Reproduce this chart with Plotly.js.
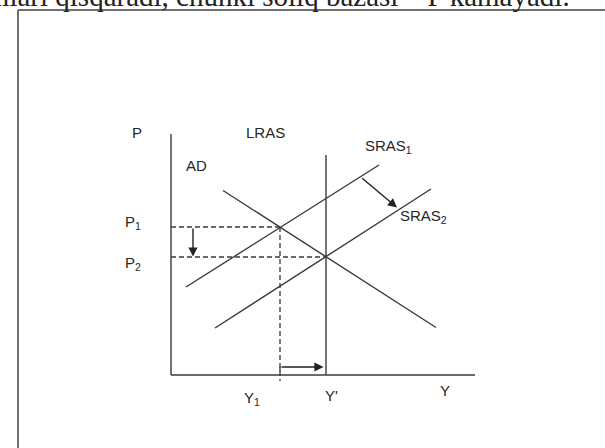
<!DOCTYPE html>
<html>
<head>
<meta charset="utf-8">
<script src="https://cdn.plot.ly/plotly-3.0.1.min.js"></script>
<style>
  html, body { margin: 0; padding: 0; background: #ffffff; }
  #chart { width: 605px; height: 448px; }
</style>
</head>
<body>
<div id="chart"></div>
<script>
// ---- Diagram values (conceptual units: Y = output, P = price level) ----
const Y1 = 10.9;          // initial output
const Yp = 15.5;          // potential output Y'
const P1 = 14.8;          // initial price level
const P2 = 11.8;          // new price level
const axisPTop = 24.1;    // top of price axis
const axisYEnd = 30.4;    // end of output axis
const lrasTop = 22.0;

const adX = [5.2, 26.5],  adY = [18.45, 4.75];
const sras1X = [1.5, 20.8], sras1Y = [8.8, 21.0];
const sras2X = [4.4, 26.0], sras2Y = [4.7, 18.6];

const labelText = ['P', 'LRAS', 'AD', 'P<sub>1</sub>', 'P<sub>2</sub>',
                   'SRAS<sub>1</sub>', 'SRAS<sub>2</sub>', 'Y<sub>1</sub>', "Y'", 'Y'];
const labelX = [-3.43, 9.4, 2.5, -3.8, -3.8, 21.7, 25.2, 8.07, 16.0, 27.4];
const labelY = [24.23, 24.23, 21.0, 15.23, 11.2, 22.9, 15.83, -2.3, -2.0, -1.5];

const headerText = 'tushumlari qisqaradi, chunki soliq bazasi – P kamayadi.';

// ---- styles ----
const ink = '#3a3a3a';
const solid = {color: ink, width: 1.4};
const dashed = {color: ink, width: 1.3, dash: '5px,3px'};

function seg(x, y, line) {
  return {type: 'scatter', mode: 'lines', x: x, y: y, line: line,
          hoverinfo: 'skip', showlegend: false};
}

const traces = [
  seg([0, 0], [0, axisPTop], solid),                 // price axis
  seg([0, axisYEnd], [0, 0], solid),                 // output axis
  seg([Yp, Yp], [0, lrasTop], solid),                // LRAS
  seg(adX, adY, solid),                              // AD
  seg(sras1X, sras1Y, solid),                        // SRAS1
  seg(sras2X, sras2Y, solid),                        // SRAS2
  seg([0, Y1], [P1, P1], dashed),                    // P1 guide
  seg([Y1, Y1], [P1, -0.6], dashed),                 // Y1 guide
  seg([0, Yp], [P2, P2], dashed),                    // P2 guide
  seg([Y1, Y1], [0.35, 0.8], solid)                  // hook of output arrow
];

const font = {family: 'Liberation Sans, Arial, sans-serif', size: 15, color: '#262626'};

const annotations = labelText.map((t, i) => ({
  x: labelX[i], y: labelY[i], xref: 'x', yref: 'y', text: t,
  showarrow: false, font: font, xanchor: 'center', yanchor: 'middle'
}));

function arrow(fromX, fromY, toX, toY) {
  return {x: toX, y: toY, ax: fromX, ay: fromY, xref: 'x', yref: 'y',
          axref: 'x', ayref: 'y', text: '', showarrow: true,
          arrowhead: 2, arrowsize: 1.3, arrowwidth: 1.4, arrowcolor: '#222222',
          standoff: 0, startstandoff: 0};
}
annotations.push(arrow(2.2, P1, 2.2, P2 + 0.05));
annotations.push(arrow(Y1, 0.8, Yp - 0.25, 0.8));
annotations.push(arrow(18.97, 19.8, 22.6, 16.75));

annotations.push({
  xref: 'paper', yref: 'paper', x: 572 / 605, y: 1 - 14 / 448,
  xanchor: 'right', yanchor: 'bottom', showarrow: false,
  text: headerText,
  font: {family: 'Liberation Serif, Times New Roman, serif', size: 29, color: '#222222'}
});

const layout = {
  width: 605, height: 448,
  margin: {l: 0, r: 0, t: 0, b: 0, pad: 0},
  paper_bgcolor: '#ffffff', plot_bgcolor: '#ffffff',
  showlegend: false,
  xaxis: {range: [-17.1, 43.4], visible: false, fixedrange: true},
  yaxis: {range: [-7.3, 37.5], visible: false, fixedrange: true},
  annotations: annotations,
  shapes: [
    {type: 'line', xref: 'paper', yref: 'paper', x0: 18 / 605, x1: 18 / 605,
     y0: -0.02, y1: 1 - 10 / 448, line: {color: '#707070', width: 2}},
    {type: 'line', xref: 'paper', yref: 'paper', x0: 18 / 605, x1: 1.02,
     y0: 1 - 10 / 448, y1: 1 - 10 / 448, line: {color: '#707070', width: 2}}
  ]
};

Plotly.newPlot('chart', traces, layout, {staticPlot: true, displayModeBar: false});
</script>
</body>
</html>
